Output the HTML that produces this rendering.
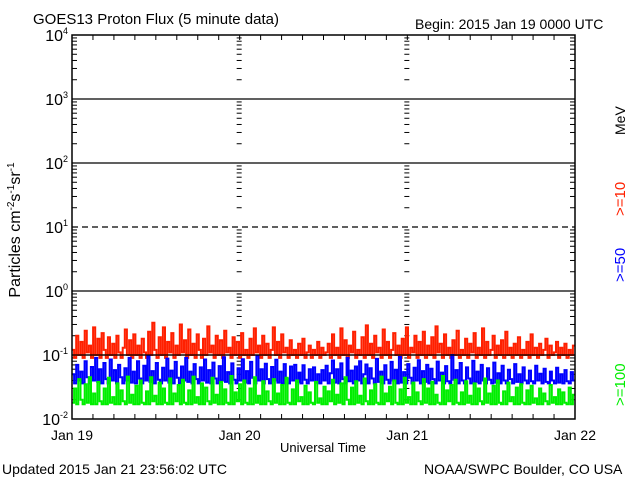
<!DOCTYPE html>
<html><head><meta charset="utf-8"><style>
body{margin:0;background:#fff;}
svg{display:block;font-family:"Liberation Sans",sans-serif;}
</style></head><body>
<svg id="chart" width="640" height="480">
<text x="33" y="24" font-size="15">GOES13 Proton Flux (5 minute data)</text>
<text x="415" y="29" font-size="14">Begin: 2015 Jan 19 0000 UTC</text>
<text x="2" y="474" font-size="14">Updated 2015 Jan 21 23:56:02 UTC</text>
<text x="424" y="474" font-size="14">NOAA/SWPC Boulder, CO USA</text>
<text x="323" y="452" font-size="13" text-anchor="middle">Universal Time</text>
<text transform="translate(20,230) rotate(-90)" font-size="16" text-anchor="middle">Particles cm<tspan dy="-6" font-size="10">-2</tspan><tspan dy="6">s</tspan><tspan dy="-6" font-size="10">-1</tspan><tspan dy="6">sr</tspan><tspan dy="-6" font-size="10">-1</tspan></text>
<text transform="translate(625,135) rotate(-90)" font-size="14">MeV</text>
<text transform="translate(625,216) rotate(-90)" font-size="15" fill="#ff2000">&gt;=10</text>
<text transform="translate(625,282) rotate(-90)" font-size="15" fill="#0000ff">&gt;=50</text>
<text transform="translate(625,406) rotate(-90)" font-size="15" fill="#00ee00">&gt;=100</text>
<g id="plot"></g>
</svg>
<script>
const dayLabels=["Jan 19","Jan 20","Jan 21","Jan 22"];
const decades=[-2,-1,0,1,2,3,4];
const red=[0.12,0.09,0.2,0.1,0.16,0.09,0.24,0.11,0.14,0.09,0.27,0.1,0.18,0.09,0.22,0.12,0.09,0.19,0.1,0.15,0.09,0.2,0.11,0.09,0.13,0.25,0.1,0.17,0.09,0.21,0.1,0.14,0.09,0.18,0.11,0.09,0.23,0.1,0.32,0.12,0.09,0.19,0.1,0.27,0.09,0.16,0.11,0.22,0.09,0.14,0.1,0.3,0.11,0.17,0.09,0.25,0.1,0.15,0.09,0.21,0.12,0.09,0.18,0.1,0.28,0.11,0.14,0.09,0.2,0.1,0.17,0.09,0.24,0.11,0.13,0.09,0.19,0.1,0.16,0.09,0.22,0.1,0.12,0.09,0.18,0.1,0.26,0.11,0.14,0.09,0.2,0.1,0.15,0.09,0.12,0.27,0.1,0.16,0.09,0.21,0.11,0.13,0.09,0.17,0.1,0.12,0.09,0.15,0.1,0.18,0.09,0.11,0.14,0.09,0.12,0.1,0.16,0.09,0.13,0.1,
0.11,0.15,0.09,0.21,0.1,0.13,0.09,0.26,0.1,0.17,0.09,0.14,0.11,0.23,0.09,0.12,0.1,0.19,0.09,0.29,0.1,0.15,0.09,0.2,0.11,0.13,0.09,0.25,0.1,0.16,0.09,0.12,0.22,0.1,0.14,0.09,0.18,0.1,0.27,0.09,0.13,0.11,0.2,0.09,0.16,0.1,0.23,0.09,0.14,0.1,0.19,0.09,0.28,0.11,0.15,0.09,0.21,0.1,0.13,0.09,0.17,0.1,0.24,0.09,0.12,0.1,0.18,0.09,0.15,0.11,0.22,0.09,0.13,0.1,0.26,0.09,0.16,0.1,0.12,0.2,0.09,0.14,0.1,0.17,0.09,0.23,0.1,0.13,0.09,0.15,0.1,0.19,0.09,0.12,0.1,0.16,0.09,0.21,0.1,0.13,0.09,0.15,0.1,0.12,0.18,0.09,0.14,0.1,0.11,0.16,0.09,0.13,0.1,0.15,0.09,0.12,0.1,0.14];
const blue=[0.05,0.036,0.07,0.04,0.055,0.036,0.08,0.045,0.036,0.065,0.04,0.09,0.038,0.06,0.036,0.075,0.042,0.036,0.085,0.04,0.058,0.036,0.07,0.045,0.036,0.062,0.04,0.09,0.037,0.055,0.036,0.08,0.043,0.036,0.068,0.04,0.095,0.038,0.056,0.036,0.075,0.041,0.036,0.063,0.04,0.088,0.037,0.057,0.036,0.078,0.044,0.036,0.066,0.04,0.09,0.038,0.055,0.036,0.072,0.042,0.036,0.064,0.04,0.085,0.037,0.058,0.036,0.076,0.043,0.036,0.067,0.04,0.092,0.038,0.054,0.036,0.074,0.041,0.036,0.062,0.04,0.086,0.037,0.056,0.036,0.078,0.044,0.036,0.098,0.04,0.06,0.036,0.073,0.042,0.036,0.065,0.04,0.084,0.037,0.055,0.036,0.072,0.043,0.036,0.066,0.04,0.07,0.038,0.053,0.036,0.069,0.041,0.036,0.06,0.04,0.064,0.037,0.05,0.036,0.058,
0.04,0.068,0.036,0.052,0.082,0.037,0.06,0.036,0.074,0.042,0.036,0.09,0.039,0.057,0.036,0.066,0.04,0.08,0.036,0.05,0.071,0.036,0.062,0.043,0.036,0.087,0.038,0.055,0.036,0.069,0.041,0.036,0.078,0.04,0.059,0.036,0.093,0.037,0.054,0.036,0.072,0.044,0.036,0.063,0.04,0.083,0.036,0.056,0.038,0.07,0.036,0.061,0.042,0.036,0.079,0.04,0.053,0.036,0.067,0.039,0.036,0.1,0.041,0.058,0.036,0.075,0.04,0.036,0.064,0.043,0.036,0.081,0.038,0.055,0.036,0.07,0.04,0.036,0.062,0.041,0.036,0.076,0.037,0.052,0.036,0.068,0.04,0.036,0.059,0.042,0.036,0.072,0.038,0.05,0.036,0.064,0.04,0.036,0.057,0.039,0.036,0.068,0.04,0.051,0.036,0.061,0.038,0.036,0.055,0.04,0.036,0.063,0.037,0.05,0.036,0.058,0.039,0.036,0.054,0.04];
const green=[0.018,0.03,0.017,0.042,0.02,0.017,0.035,0.018,0.045,0.017,0.025,0.017,0.038,0.019,0.017,0.03,0.017,0.044,0.018,0.022,0.017,0.036,0.017,0.028,0.019,0.017,0.046,0.018,0.024,0.017,0.033,0.017,0.04,0.018,0.017,0.027,0.017,0.045,0.019,0.023,0.017,0.037,0.017,0.03,0.018,0.017,0.043,0.017,0.025,0.019,0.034,0.017,0.041,0.018,0.017,0.028,0.017,0.046,0.018,0.022,0.017,0.036,0.017,0.031,0.019,0.017,0.044,0.018,0.024,0.017,0.038,0.017,0.029,0.018,0.017,0.047,0.017,0.026,0.019,0.035,0.017,0.04,0.018,0.017,0.03,0.017,0.045,0.018,0.023,0.017,0.039,0.017,0.027,0.019,0.017,0.042,0.018,0.025,0.017,0.034,0.017,0.044,0.018,0.017,0.029,0.017,0.04,0.019,0.022,0.017,0.033,0.017,0.026,0.018,0.017,0.038,0.018,0.021,0.017,0.032,
0.017,0.027,0.019,0.041,0.017,0.024,0.018,0.036,0.017,0.045,0.02,0.017,0.031,0.017,0.039,0.018,0.023,0.017,0.043,0.019,0.017,0.028,0.017,0.035,0.018,0.017,0.046,0.017,0.025,0.019,0.032,0.017,0.04,0.018,0.017,0.029,0.017,0.044,0.018,0.022,0.017,0.037,0.017,0.026,0.019,0.017,0.042,0.018,0.03,0.017,0.038,0.017,0.024,0.018,0.017,0.047,0.017,0.028,0.019,0.034,0.017,0.041,0.018,0.017,0.026,0.017,0.039,0.018,0.023,0.017,0.036,0.017,0.03,0.019,0.017,0.043,0.018,0.025,0.017,0.033,0.017,0.04,0.018,0.017,0.027,0.017,0.037,0.019,0.022,0.017,0.031,0.017,0.035,0.018,0.017,0.028,0.017,0.033,0.018,0.021,0.017,0.03,0.017,0.025,0.019,0.017,0.034,0.018,0.022,0.017,0.029,0.017,0.026,0.018,0.017,0.031,0.017,0.024];
const X0=72,X1=575,Y0=35,Y1=419;
const ns='http://www.w3.org/2000/svg';
const g=document.getElementById('plot');
function y(v){return Y1-(Math.log10(v)+2)/6*(Y1-Y0);}
function xd(d){return X0+d/3*(X1-X0);}
function el(t,a){const e=document.createElementNS(ns,t);for(const k in a)e.setAttribute(k,a[k]);g.appendChild(e);return e;}
function series(arr,color,name){
  let p='';const n=arr.length;
  arr.forEach((v,i)=>{const x0=xd(3*i/n),x1=xd(3*(i+1)/n);p+=(i?'L':'M')+x0.toFixed(1)+' '+y(v).toFixed(1)+'L'+x1.toFixed(1)+' '+y(v).toFixed(1);});
  const e=el('path',{d:p,fill:'none',stroke:color,'stroke-width':2});
  
  
}
decades.forEach(d=>{
  if(d===-2||d===4)return;
  const e=el('line',{x1:X0,x2:X1,y1:y(Math.pow(10,d)),y2:y(Math.pow(10,d)),stroke:'#000','stroke-width':1.3,'stroke-dasharray':d===1?'6,4':'none'});
  
  
});
[X0,xd(1),xd(2),X1].forEach((xx,j)=>{
  for(let d=-2;d<4;d++){for(let m=2;m<=9;m++){
    const yy=y(m*Math.pow(10,d));
    const a=j===0?xx:(j===3?xx-5:xx-3);
    const e=el('line',{x1:a,x2:a+5,y1:yy,y2:yy,stroke:'#000','stroke-width':1});
    
    
  }}
});
for(let h=1;h<24;h++){const xx=xd(h/8);
  const e=el('path',{d:`M${xx} ${Y1}v-5M${xx} ${Y0}v5`,stroke:'#000','stroke-width':1});
  
  
}
series(red,'#ff2000','series-ge10');
series(blue,'#0000ff','series-ge50');
series(green,'#00ee00','series-ge100');
{const e=el('line',{x1:X0,x2:X1,y1:y(0.1),y2:y(0.1),stroke:'#000','stroke-width':1.3});

}
{const e=el('rect',{x:X0,y:Y0,width:X1-X0,height:Y1-Y0,fill:'none',stroke:'#000','stroke-width':1.5});

}
decades.forEach(d=>{
  const t=el('text',{x:X0-4,y:y(Math.pow(10,d))+6,'font-size':16,'text-anchor':'end'});
  t.innerHTML='10<tspan dy="-7" font-size="9">'+d+'</tspan>';
  
  
});
dayLabels.forEach((s,i)=>{
  const t=el('text',{x:xd(i),y:440,'font-size':14,'text-anchor':'middle'});
  t.textContent=s;
  
  
});
</script>
</body></html>
